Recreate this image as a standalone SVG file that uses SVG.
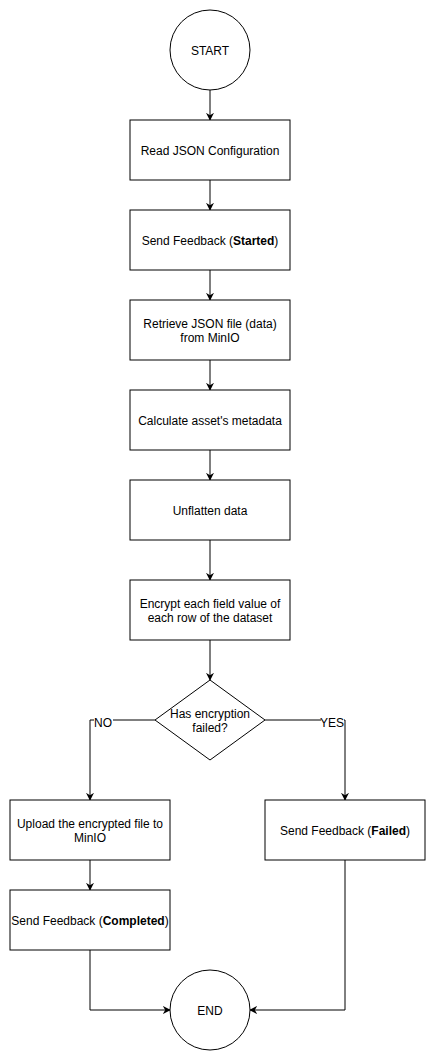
<svg xmlns="http://www.w3.org/2000/svg" width="436" height="1061" viewBox="0 0 436 1061">
<defs>
<style>
.n{fill:#fff;stroke:#000;stroke-width:1}
.t{font-family:"Liberation Sans",Arial,sans-serif;font-size:12px;fill:#000;text-anchor:middle}
.e{fill:none;stroke:#000;stroke-width:1}
.lb{fill:#fff}
</style>
<marker id="a" viewBox="0 0 10 10" refX="9" refY="5" markerWidth="8" markerHeight="8" markerUnits="userSpaceOnUse" orient="auto">
<path d="M0,0 L10,5 L0,10 L3,5 Z" fill="#000"/>
</marker>
</defs>
<rect width="436" height="1061" fill="#fff"/>
<g id="connectors">
<path class="e" d="M210,90 V120" marker-end="url(#a)"/>
<path class="e" d="M210,180 V210" marker-end="url(#a)"/>
<path class="e" d="M210,270 V300" marker-end="url(#a)"/>
<path class="e" d="M210,360 V390" marker-end="url(#a)"/>
<path class="e" d="M210,450 V480" marker-end="url(#a)"/>
<path class="e" d="M210,540 V580" marker-end="url(#a)"/>
<path class="e" d="M210,640 V680" marker-end="url(#a)"/>
<path class="e" d="M155,720 H90 V800" marker-end="url(#a)"/>
<path class="e" d="M265,720 H345 V800" marker-end="url(#a)"/>
<path class="e" d="M90,860 V890" marker-end="url(#a)"/>
<path class="e" d="M90,950 V1010 H170" marker-end="url(#a)"/>
<path class="e" d="M345,860 V1010 H250" marker-end="url(#a)"/>
<rect class="lb" x="94" y="716" width="19" height="14"/>
<text class="t" x="103" y="727">NO</text>
<rect class="lb" x="321" y="716" width="23" height="14"/>
<text class="t" x="332" y="727">YES</text>
</g>
<g id="start">
<circle class="n" cx="210" cy="50" r="40"/>
<text class="t" x="210" y="55">START</text>
</g>
<g id="read">
<rect class="n" x="130" y="120" width="160" height="60"/>
<text class="t" x="210" y="155">Read JSON Configuration</text>
</g>
<g id="started">
<rect class="n" x="130" y="210" width="160" height="60"/>
<text class="t" x="210" y="245">Send Feedback (<tspan font-weight="bold">Started</tspan>)</text>
</g>
<g id="retrieve">
<rect class="n" x="130" y="300" width="160" height="60"/>
<text class="t" x="210" y="328">Retrieve JSON file (data)</text>
<text class="t" x="210" y="342">from MinIO</text>
</g>
<g id="calc">
<rect class="n" x="130" y="390" width="160" height="60"/>
<text class="t" x="210" y="425">Calculate asset's metadata</text>
</g>
<g id="unflatten">
<rect class="n" x="130" y="480" width="160" height="60"/>
<text class="t" x="210" y="515">Unflatten data</text>
</g>
<g id="encrypt">
<rect class="n" x="130" y="580" width="160" height="60"/>
<text class="t" x="210" y="608">Encrypt each field value of</text>
<text class="t" x="210" y="622">each row of the dataset</text>
</g>
<g id="decision">
<path class="n" d="M210,680 L265,720 L210,760 L155,720 Z"/>
<text class="t" x="210" y="718">Has encryption</text>
<text class="t" x="210" y="732">failed?</text>
</g>
<g id="upload">
<rect class="n" x="10" y="800" width="160" height="60"/>
<text class="t" x="90" y="828">Upload the encrypted file to</text>
<text class="t" x="90" y="842">MinIO</text>
</g>
<g id="failed">
<rect class="n" x="265" y="800" width="160" height="60"/>
<text class="t" x="345" y="835">Send Feedback (<tspan font-weight="bold">Failed</tspan>)</text>
</g>
<g id="completed">
<rect class="n" x="10" y="890" width="160" height="60"/>
<text class="t" x="90" y="925">Send Feedback (<tspan font-weight="bold">Completed</tspan>)</text>
</g>
<g id="end">
<circle class="n" cx="210" cy="1010" r="40"/>
<text class="t" x="210" y="1015">END</text>
</g>
</svg>
